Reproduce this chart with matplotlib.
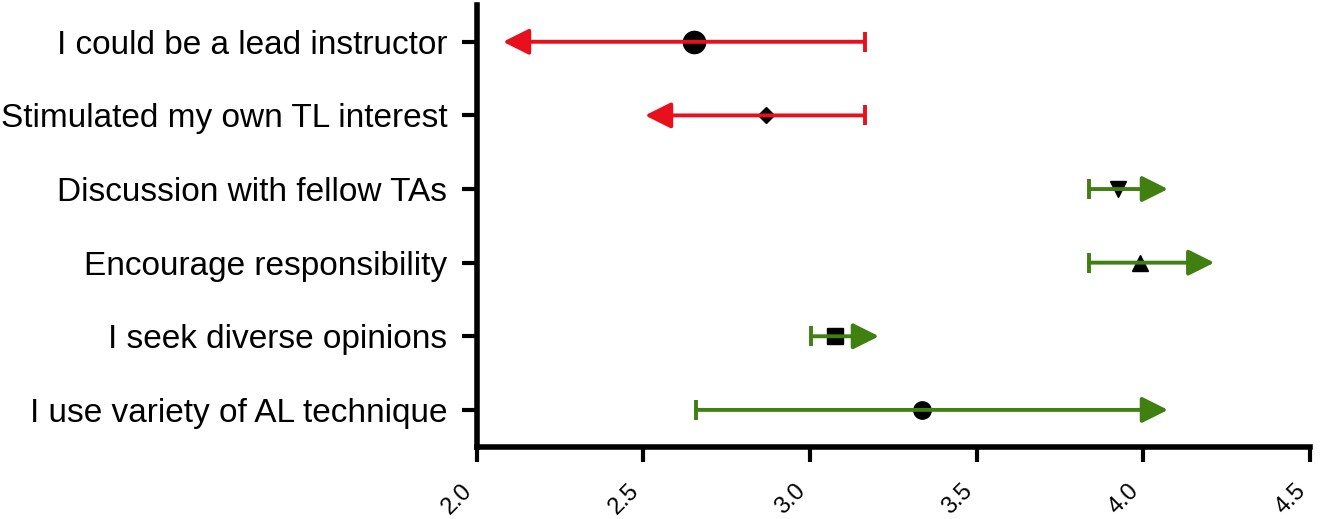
import matplotlib
matplotlib.use("Agg")
import matplotlib.pyplot as plt

# ---- data (top to bottom as shown) ----
labels = ["I could be a lead instructor",
          "Stimulated my own TL interest",
          "Discussion with fellow TAs",
          "Encourage responsibility",
          "I seek diverse opinions",
          "I use variety of AL technique"]
means = [2.652, 2.868, 3.924, 3.990, 3.075, 3.336]
cap_end = [3.165, 3.165, 3.837, 3.837, 3.003, 2.658]     # end with flat cap
arrow_end = [2.079, 2.505, 4.074, 4.213, 3.207, 4.074]   # end with arrowhead
markers = ["o", "D", "v", "^", "s", "o"]
marker_sizes = [16, 8.2, 11, 11, 12, 12.5]
colors = ["#e8101c", "#e8101c", "#3f8010", "#3f8010", "#3f8010", "#3f8010"]
xticks = [2.0, 2.5, 3.0, 3.5, 4.0, 4.5]
xticklabels = ["2.0", "2.5", "3.0", "3.5", "4.0", "4.5"]

plt.rcParams['font.family'] = ['Liberation Sans', 'DejaVu Sans']

fig = plt.figure(figsize=(13.2, 5.19), dpi=100)
ax = fig.add_axes([0.3611, 0.1393, 0.9924 - 0.3611, 0.9904 - 0.1393])

n = len(labels)
ypos = [n - 1 - i for i in range(n)]

for i in range(n):
    y = ypos[i]
    ax.plot([means[i]], [y], marker=markers[i], ms=marker_sizes[i],
            color="black", linestyle="none", zorder=2)
    ax.annotate("", xy=(arrow_end[i], y), xytext=(cap_end[i], y),
                arrowprops=dict(arrowstyle="-|>,head_length=15.8,head_width=7.9",
                                mutation_scale=1, lw=2.8, color=colors[i],
                                shrinkA=0, shrinkB=0),
                zorder=3)
    ax.plot([cap_end[i]], [y], marker="|", ms=15, mew=2.8,
            color=colors[i], linestyle="none", zorder=3)

ax.set_xlim(2.0, 4.5)
ax.set_ylim(-0.5, n - 0.5)
ax.set_yticks(ypos)
ax.set_yticklabels(labels, fontsize=24)
ax.set_xticks(xticks)
ax.set_xticklabels(xticklabels, fontsize=17, rotation=45, ha="right", va="top")

for s in ["top", "right"]:
    ax.spines[s].set_visible(False)
for s in ["left", "bottom"]:
    ax.spines[s].set_linewidth(4)
    ax.spines[s].set_color("black")

ax.tick_params(axis="both", direction="out", length=11, width=3, color="black")
ax.tick_params(axis="y", pad=10)
ax.tick_params(axis="x", pad=13)

fig.savefig("out.png", dpi=100)
